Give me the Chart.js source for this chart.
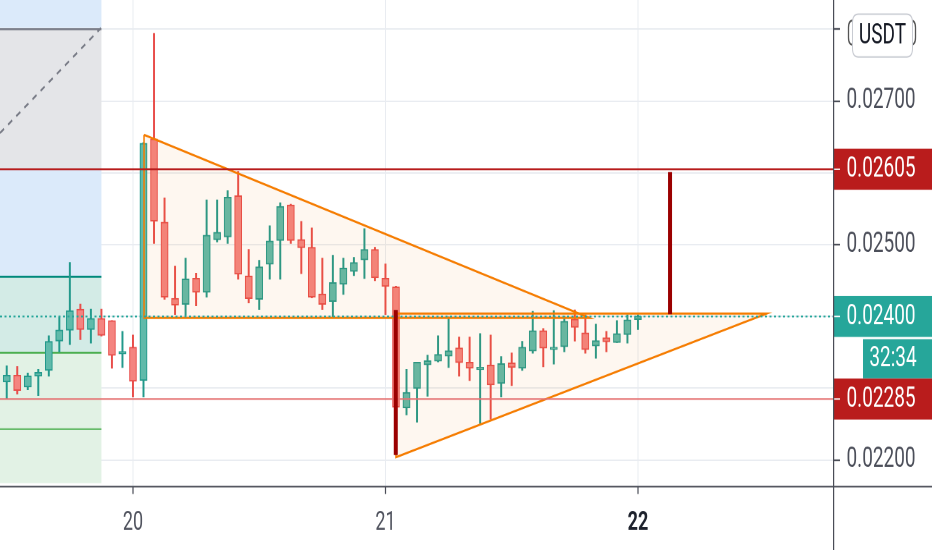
<!DOCTYPE html>
<html><head><meta charset="utf-8">
<script src="https://cdn.jsdelivr.net/npm/chart.js@4.4.1/dist/chart.umd.min.js"></script>
<style>
html,body{margin:0;padding:0;background:#fff;overflow:hidden;width:932px;height:550px;}
#wrap{position:absolute;left:0;top:0;width:932px;height:380px;transform:scaleY(1.447368);transform-origin:0 0;}
</style></head><body>
<div id="wrap"><canvas id="c" width="932" height="380"></canvas></div>
<script>
// ---- data (hours since day 20 00:00) ----
const candleHours = [-12,-11,-10,-9,-8,-7,-6,-5,-4,-3,-2,-1,0,1,2,3,4,5,6,7,8,9,10,11,12,13,14,15,16,17,18,19,20,21,22,23,24,25,26,27,28,29,30,31,32,33,34,35,36,37,38,39,40,41,42,43,44,45,46,47,48];
const opens  = [0.02309,0.02318,0.02302,0.02317,0.02325,0.02366,0.02381,0.02410,0.02382,0.02397,0.02394,0.02348,0.02357,0.02311,0.02647,0.02531,0.02425,0.02417,0.02453,0.02434,0.02507,0.02511,0.02568,0.02456,0.02424,0.02473,0.02506,0.02555,0.02507,0.02496,0.02431,0.02421,0.02445,0.02463,0.02479,0.02493,0.02453,0.02441,0.02273,0.02300,0.02333,0.02338,0.02345,0.02356,0.02336,0.02326,0.02332,0.02307,0.02335,0.02328,0.02352,0.02380,0.02354,0.02358,0.02396,0.02377,0.02359,0.02370,0.02364,0.02375,0.02396];
const highs  = [0.02331,0.02330,0.02321,0.02326,0.02373,0.02399,0.02475,0.02417,0.02410,0.02410,0.02394,0.02379,0.02374,0.02642,0.02794,0.02565,0.02470,0.02481,0.02460,0.02562,0.02562,0.02575,0.02602,0.02493,0.02478,0.02526,0.02558,0.02556,0.02532,0.02523,0.02481,0.02485,0.02481,0.02482,0.02522,0.02496,0.02473,0.02442,0.02326,0.02336,0.02346,0.02373,0.02399,0.02371,0.02371,0.02376,0.02374,0.02344,0.02349,0.02365,0.02407,0.02383,0.02408,0.02400,0.02409,0.02402,0.02389,0.02379,0.02394,0.02402,0.02402];
const lows   = [0.02286,0.02292,0.02298,0.02290,0.02317,0.02351,0.02361,0.02368,0.02363,0.02373,0.02328,0.02329,0.02288,0.02288,0.02502,0.02424,0.02403,0.02402,0.02415,0.02427,0.02504,0.02502,0.02452,0.02419,0.02410,0.02452,0.02452,0.02502,0.02460,0.02426,0.02410,0.02400,0.02431,0.02457,0.02453,0.02450,0.02403,0.02215,0.02263,0.02253,0.02289,0.02337,0.02329,0.02317,0.02311,0.02251,0.02257,0.02288,0.02304,0.02325,0.02349,0.02330,0.02334,0.02351,0.02366,0.02349,0.02342,0.02351,0.02364,0.02363,0.02382];
const closes = [0.02318,0.02297,0.02317,0.02322,0.02365,0.02381,0.02408,0.02382,0.02397,0.02374,0.02346,0.02349,0.02310,0.02641,0.02533,0.02427,0.02416,0.02452,0.02434,0.02513,0.02517,0.02566,0.02459,0.02425,0.02469,0.02505,0.02553,0.02506,0.02496,0.02427,0.02417,0.02447,0.02467,0.02475,0.02493,0.02454,0.02442,0.02274,0.02294,0.02336,0.02338,0.02347,0.02352,0.02336,0.02328,0.02329,0.02305,0.02334,0.02329,0.02357,0.02380,0.02356,0.02356,0.02393,0.02385,0.02354,0.02366,0.02365,0.02376,0.02395,0.02400];

const dayTickHours = [0, 24, 48];
const dayLabels = ['20', '21', '22'];
const yTickValues = [0.022, 0.023, 0.024, 0.025, 0.026, 0.027, 0.028];
const yLabelValues = [0.022, 0.025, 0.027];

// horizontal price levels across the chart
const levelValues = [0.02605, 0.02285, 0.02400];
// right-axis price tags
const tagValues = [0.02605, 0.02400, 0.02285];
const tagTexts = ['0.02605', '0.02400', '0.02285'];
const countdownText = '32:34';
const currencyText = 'USDT';

// left shaded strip (hours from/to, price zones)
const stripHours = [-12.64, -3];
const zoneTops    = [0.02841, 0.02802, 0.02604, 0.02455, 0.02349];
const zoneBottoms = [0.02802, 0.02604, 0.02455, 0.02349, 0.02168];
const stripLineLevels = [0.02800, 0.024553, 0.023494, 0.022432];
const stripDiagHours = [-12.64, -3.04];
const stripDiagPrices = [0.026554, 0.028017];

// triangle drawings: [hour, price] vertices
const tri1Hours = [1.05, 1.05, 43.4, 1.05];
const tri1Prices = [0.02653, 0.02398, 0.02398, 0.02653];
const tri2Hours = [25, 25, 60.24, 25];
const tri2Prices = [0.02404, 0.02204, 0.02404, 0.02404];

// vertical measure bars
const barHours = [24.98, 51.05];
const barFrom = [0.02409, 0.02403];
const barTo = [0.02207, 0.02601];

// ---- styling ----
const X_MIN = -12.64, X_MAX = 66.54, Y_MIN = 0.021638, Y_MAX = 0.028407;
const UP_FILL = 'rgb(96,186,170)', UP_LINE = 'rgb(34,153,139)';
const DN_FILL = 'rgb(244,132,128)', DN_LINE = 'rgb(232,77,74)';
const ORANGE = 'rgb(245,124,0)';
const AXIS = '#4a4d57';
const GRID = 'rgb(233,236,241)';
const zoneColors = ['rgb(219,234,250)','rgb(228,229,232)','rgb(219,234,250)','rgb(211,235,230)','rgb(226,242,229)'];
const stripLineColors = ['rgb(120,123,134)','rgb(0,137,123)','rgb(76,175,80)','rgb(102,187,106)'];
const levelColors = ['rgb(183,28,28)','rgb(229,115,115)','rgb(38,166,154)'];
const levelWidths = [1.4, 1.1, 1.2];
const levelDashes = [[], [], [2, 2.5]];
const tagColors = ['rgb(185,28,28)', 'rgb(38,166,154)', 'rgb(185,28,28)'];

const isUp = closes.map((c, i) => c >= opens[i]);

function poly(points, style) {
  return Object.assign({type: 'line', data: points, pointRadius: 0, pointHoverRadius: 0, pointHitRadius: 0,
    tension: 0, fill: false, borderCapStyle: 'butt'}, style);
}

const datasets = [];
// strip zones
zoneTops.forEach((t, i) => {
  const b = zoneBottoms[i];
  datasets.push(poly([
    {x: stripHours[0], y: t}, {x: stripHours[1], y: t}, {x: stripHours[1], y: b},
    {x: stripHours[0], y: b}, {x: stripHours[0], y: t}],
    {fill: 'shape', backgroundColor: zoneColors[i], borderColor: 'rgba(0,0,0,0)', borderWidth: 0, order: 20}));
});
stripLineLevels.forEach((v, i) => {
  datasets.push(poly([{x: stripHours[0], y: v}, {x: stripHours[1], y: v}],
    {borderColor: stripLineColors[i], borderWidth: i === 3 ? 1.1 : 1.4, order: 19}));
});
datasets.push(poly([{x: stripDiagHours[0], y: stripDiagPrices[0]}, {x: stripDiagHours[1], y: stripDiagPrices[1]}],
  {borderColor: 'rgb(120,123,134)', borderWidth: 1.5, borderDash: [5, 5], order: 19}));

// candles
datasets.push({
  type: 'bar', order: 8, grouped: false, barThickness: 1.3,
  data: candleHours.map((h, i) => ({x: h, y: [lows[i], highs[i]]})),
  backgroundColor: isUp.map(u => u ? UP_LINE : DN_LINE), borderWidth: 0
});
datasets.push({
  type: 'bar', order: 7, grouped: false, barThickness: 7, minBarLength: 1.5,
  data: candleHours.map((h, i) => ({x: h, y: [opens[i], closes[i]]})),
  backgroundColor: isUp.map(u => u ? UP_FILL : DN_FILL),
  borderColor: isUp.map(u => u ? UP_LINE : DN_LINE),
  borderWidth: 1, borderSkipped: false
});

// triangles
[[tri1Hours, tri1Prices], [tri2Hours, tri2Prices]].forEach(([hs, ps]) => {
  datasets.push(poly(hs.map((h, i) => ({x: h, y: ps[i]})),
    {fill: 'shape', backgroundColor: 'rgba(245,124,0,0.06)', borderColor: ORANGE, borderWidth: 1.5, borderJoinStyle: 'miter', order: 4}));
});

// level lines
levelValues.forEach((v, i) => {
  datasets.push(poly([{x: X_MIN, y: v}, {x: X_MAX, y: v}],
    {borderColor: levelColors[i], borderWidth: levelWidths[i], borderDash: levelDashes[i], order: 3}));
});

// measure bars
barHours.forEach((h, i) => {
  datasets.push(poly([{x: h, y: barFrom[i]}, {x: h, y: barTo[i]}],
    {borderColor: 'rgb(155,0,0)', borderWidth: 4, order: 2}));
});

const near = (a, b) => Math.abs(a - b) < 1e-9;

const decor = {
  id: 'decor',
  afterDraw(chart) {
    const {ctx, chartArea: ca, scales: {y}} = chart;
    const W = chart.width, H = chart.height;
    ctx.save();
    const th = 28.3;
    // price tags
    tagValues.forEach((v, i) => {
      const py = y.getPixelForValue(v);
      ctx.fillStyle = tagColors[i];
      ctx.fillRect(ca.right, py - th / 2, W - ca.right, th);
      ctx.strokeStyle = '#fff'; ctx.lineWidth = 1;
      ctx.beginPath(); ctx.moveTo(ca.right + 1, py); ctx.lineTo(ca.right + 7, py); ctx.stroke();
      ctx.fillStyle = '#fff';
      ctx.font = '19px Roboto';
      ctx.textAlign = 'left'; ctx.textBaseline = 'middle';
      ctx.fillText(tagTexts[i], ca.right + 13.5, py + 0.5);
    });
    // countdown under the current-price tag
    const cp = y.getPixelForValue(tagValues[1]);
    const ct = cp + th / 2 + 1.6, chh = 27;
    ctx.fillStyle = tagColors[1];
    ctx.fillRect(863, ct, W - 863, chh);
    ctx.fillStyle = '#fff';
    ctx.textAlign = 'center';
    ctx.fillText(countdownText, 893, ct + chh / 2 + 0.5);
    // currency box
    function rr(x, yy, w, h, r) {
      ctx.beginPath();
      ctx.moveTo(x + r, yy); ctx.lineTo(x + w - r, yy); ctx.quadraticCurveTo(x + w, yy, x + w, yy + r);
      ctx.lineTo(x + w, yy + h - r); ctx.quadraticCurveTo(x + w, yy + h, x + w - r, yy + h);
      ctx.lineTo(x + r, yy + h); ctx.quadraticCurveTo(x, yy + h, x, yy + h - r);
      ctx.lineTo(x, yy + r); ctx.quadraticCurveTo(x, yy, x + r, yy); ctx.closePath();
    }
    rr(848.5, 14, 67, 17, 5); ctx.strokeStyle = '#555'; ctx.lineWidth = 1.3; ctx.stroke();
    rr(852.5, 9.7, 60, 29.7, 6); ctx.fillStyle = '#fff'; ctx.fill();
    ctx.strokeStyle = 'rgb(200,203,210)'; ctx.lineWidth = 1; ctx.stroke();
    ctx.fillStyle = '#131722'; ctx.textAlign = 'center'; ctx.textBaseline = 'middle';
    ctx.font = '19px Roboto';
    ctx.fillText(currencyText, 882.5, 25);
    // axis lines spanning the full canvas
    ctx.strokeStyle = AXIS; ctx.lineWidth = 1.2;
    ctx.beginPath(); ctx.moveTo(0, ca.bottom + 0.4); ctx.lineTo(W, ca.bottom + 0.4); ctx.stroke();
    ctx.beginPath(); ctx.moveTo(ca.right + 0.6, 0); ctx.lineTo(ca.right + 0.6, H); ctx.stroke();
    ctx.restore();
  }
};

new Chart(document.getElementById('c'), {
  type: 'line',
  data: {datasets},
  plugins: [decor],
  options: {
    responsive: false, devicePixelRatio: 2, animation: false, events: [],
    layout: {padding: 0},
    plugins: {legend: {display: false}, tooltip: {enabled: false}},
    scales: {
      x: {
        type: 'linear', min: X_MIN, max: X_MAX, offset: false,
        grid: {color: GRID, lineWidth: 1, offset: false, drawTicks: true, tickLength: 5.5, tickColor: AXIS, tickWidth: 1.2},
        border: {display: false},
        afterBuildTicks: s => { s.ticks = dayTickHours.map(v => ({value: v})); },
        afterFit: s => { s.height = 44.2; s.paddingLeft = 0; s.paddingRight = 0; },
        ticks: {
          autoSkip: false, maxRotation: 0, padding: 9.5,
          callback: v => { const k = dayTickHours.indexOf(v); return k >= 0 ? dayLabels[k] : ''; },
          font: c => ({family: 'Roboto', size: 18, weight: (c.tick && c.tick.value === 48) ? 'bold' : 'normal'}),
          color: c => (c.tick && c.tick.value === 48) ? '#1e222d' : '#50535e'
        }
      },
      y: {
        type: 'linear', position: 'right', min: Y_MIN, max: Y_MAX,
        grid: {color: GRID, lineWidth: 1, drawTicks: true, tickLength: 7, tickColor: AXIS, tickWidth: 1.2},
        border: {display: false},
        afterBuildTicks: s => { s.ticks = yTickValues.map(v => ({value: v})); },
        afterFit: s => { s.width = 99; s.paddingTop = 0; s.paddingBottom = 0; },
        ticks: {
          autoSkip: false, padding: 6.5,
          callback: v => yLabelValues.some(l => near(l, v)) ? v.toFixed(5) : '',
          font: {family: 'Roboto', size: 19},
          color: '#4c4f5a'
        }
      }
    }
  }
});
</script></body></html>
